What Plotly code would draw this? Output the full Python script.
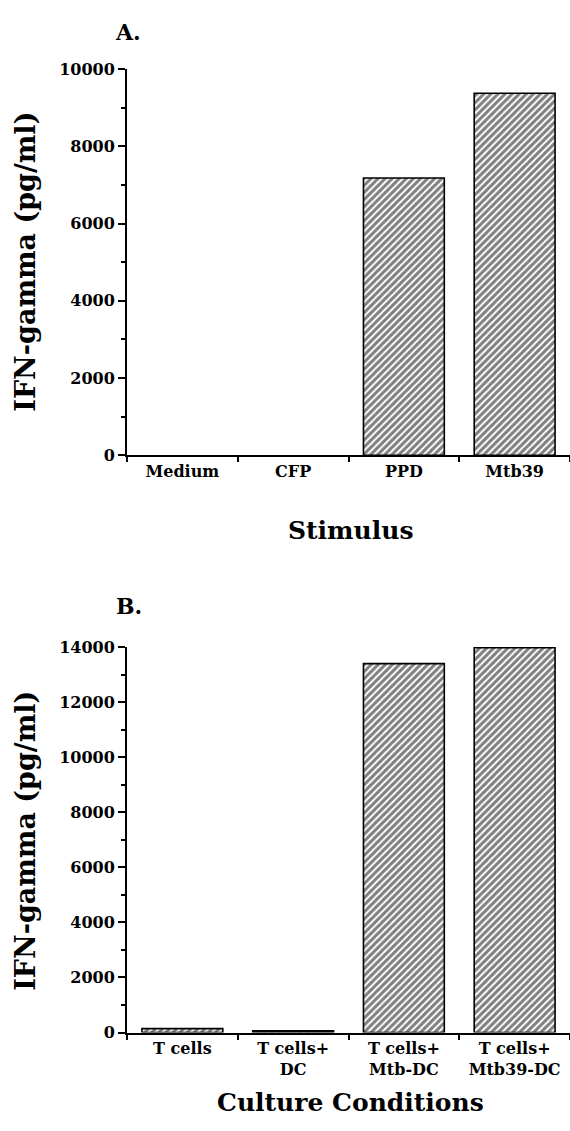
import plotly.graph_objects as go

W, H = 570, 1131

cats_a = ["Medium", "CFP", "PPD", "Mtb39"]
vals_a = [0, 0, 7180, 9370]
ticks_a = [0, 2000, 4000, 6000, 8000, 10000]

cats_b = ["T cells", "T cells+<br>DC", "T cells+<br>Mtb-DC", "T cells+<br>Mtb39-DC"]
vals_b = [140, 60, 13400, 13980]
ticks_b = [0, 2000, 4000, 6000, 8000, 10000, 12000, 14000]

FONT = "DejaVu Serif"


def px_x(x):
    return x / W


def px_y(y):
    return 1 - y / H


def bar_style(vals):
    return dict(
        marker=dict(
            color="white",
            line=dict(color="black", width=[0 if v == 0 else 1.6 for v in vals]),
            pattern=dict(shape="/", fgcolor="black", bgcolor="white", size=5, solidity=0.6),
        ),
        width=0.73,
        showlegend=False,
        hoverinfo="x+y",
    )


fig = go.Figure()
fig.add_trace(go.Bar(x=cats_a, y=vals_a, xaxis="x", yaxis="y", **bar_style(vals_a)))
fig.add_trace(go.Bar(x=cats_b, y=vals_b, xaxis="x2", yaxis="y2", **bar_style(vals_b)))

xcommon = dict(
    type="category",
    showline=True, linecolor="black", linewidth=2,
    ticks="outside", ticklen=5, tickwidth=2, tickcolor="black",
    tickson="boundaries",
    showgrid=False, zeroline=False,
    tickfont=dict(family=FONT, size=16, color="black", weight="bold"),
    range=[-0.5, 3.5],
)
ycommon = dict(
    showline=True, linecolor="black", linewidth=2,
    ticks="outside", ticklen=7, tickwidth=2, tickcolor="black",
    showgrid=False, zeroline=False,
    tickfont=dict(family=FONT, size=16, color="black", weight="bold"),
    minor=dict(ticks="outside", ticklen=4, tickwidth=1.5, tickcolor="black", dtick=1000, showgrid=False),
)

fig.update_layout(
    width=W, height=H,
    margin=dict(l=0, r=0, t=0, b=0),
    paper_bgcolor="white", plot_bgcolor="white",
    xaxis=dict(domain=[px_x(127), 1.0], anchor="y", **xcommon),
    yaxis=dict(domain=[px_y(454), px_y(61)], anchor="x", range=[0, 10000],
               tickvals=ticks_a, ticktext=[str(t) for t in ticks_a], **ycommon),
    xaxis2=dict(domain=[px_x(127), 1.0], anchor="y2", **xcommon),
    yaxis2=dict(domain=[px_y(1041), px_y(649)], anchor="x2", range=[0, 14000],
                tickvals=ticks_b, ticktext=[str(t) for t in ticks_b], **ycommon),
)


def ann(text, x, y, size, angle=0):
    fig.add_annotation(
        text=text, x=px_x(x), y=px_y(y), xref="paper", yref="paper",
        showarrow=False, textangle=angle, xanchor="center", yanchor="middle",
        font=dict(family=FONT, size=size, color="black", weight="bold"),
    )


ann("A.", 128, 23, 22)
ann("B.", 129, 607, 22)
ann("IFN-gamma (pg/ml)", 26, 257, 27, -90)
ann("IFN-gamma (pg/ml)", 26, 846, 27, -90)
ann("Stimulus", 350, 530, 25)
ann("Culture Conditions", 350, 1112, 25)

fig.write_html(
    "out.html",
    config={"displayModeBar": False},
    post_script="document.body.style.margin='0';document.body.style.overflow='hidden';",
)
